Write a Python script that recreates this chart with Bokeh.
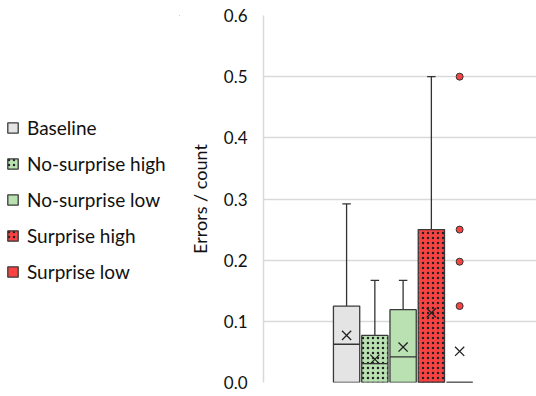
from bokeh.plotting import figure
from bokeh.layouts import row
from bokeh.models import (Range1d, Legend, LegendItem, FixedTicker, NumeralTickFormatter,
                          LinearAxis)
from bokeh.embed import file_html
from bokeh.resources import INLINE

groups = ["Baseline", "No-surprise high", "No-surprise low", "Surprise high", "Surprise low"]
q1 = [0.0, 0.0, 0.0, 0.0, 0.0]
q3 = [0.125, 0.077, 0.119, 0.25, 0.0]
medians = [0.0625, 0.031, 0.042, 0.0, 0.0]
means = [0.077, 0.038, 0.058, 0.114, 0.051]
upper = [0.292, 0.167, 0.167, 0.5, 0.0]
outlier_values = [0.5, 0.25, 0.1975, 0.125]
outlier_group = "Surprise low"
y_ticks = [0.0, 0.1, 0.2, 0.3, 0.4, 0.5, 0.6]

fills = ["#e4e4e4", "#b9e1b2", "#b9e1b2", "#f94343", "#f94343"]
hatches = ["", "dot", "", "dot", ""]

FONT = "Lato"
LEG_W = 180
xs = [i + 1 for i in range(len(groups))]

# main plot
p = figure(width=536 - LEG_W, height=396, output_backend="svg", toolbar_location=None,
           x_range=Range1d(-1.94, 7.72), y_range=Range1d(0, 0.6),
           min_border_left=263 - LEG_W, min_border_right=0, min_border_top=15, min_border_bottom=14)
p.outline_line_color = None
p.xaxis.visible = False
p.yaxis.visible = False
p.xgrid.visible = False
p.ygrid.grid_line_color = "#d9d9d9"
p.ygrid.grid_line_width = 1.5
p.ygrid.ticker = FixedTicker(ticks=y_ticks)

ax = LinearAxis(ticker=FixedTicker(ticks=y_ticks), formatter=NumeralTickFormatter(format="0.0"))
ax.axis_line_color = "#d9d9d9"
ax.axis_line_width = 1.5
ax.major_tick_line_color = None
ax.minor_tick_line_color = None
ax.major_label_text_font = FONT
ax.major_label_text_font_size = "17px"
ax.major_label_text_color = "#111111"
ax.major_label_standoff = 10
ax.axis_label = "Errors / count"
ax.axis_label_text_font = FONT
ax.axis_label_text_font_size = "18px"
ax.axis_label_text_font_style = "normal"
ax.axis_label_text_color = "#111111"
ax.axis_label_standoff = 10
p.add_layout(ax, "left")

# legend panel
q = figure(width=LEG_W, height=396, output_backend="svg", toolbar_location=None,
           x_range=Range1d(0, 1), y_range=Range1d(0, 1),
           min_border_left=0, min_border_right=0, min_border_top=0, min_border_bottom=0)
q.outline_line_color = None
q.xaxis.visible = False
q.yaxis.visible = False
q.xgrid.visible = False
q.ygrid.visible = False

# whiskers
wx = [x for x, qq, u in zip(xs, q3, upper) if u > qq]
wq = [qq for qq, u in zip(q3, upper) if u > qq]
wu = [u for qq, u in zip(q3, upper) if u > qq]
p.segment(x0=wx, y0=wq, x1=wx, y1=wu, line_color="#333333", line_width=1.3)
p.segment(x0=[x - 0.15 for x in wx], y0=wu, x1=[x + 0.15 for x in wx], y1=wu,
          line_color="#333333", line_width=1.3)

items = []
for i, g in enumerate(groups):
    kw = {}
    if hatches[i]:
        kw = dict(hatch_pattern=hatches[i], hatch_color="#222222", hatch_scale=5, hatch_weight=1)
    p.vbar(x=[xs[i]], bottom=[q1[i]], top=[q3[i]], width=0.93,
           fill_color=fills[i], line_color="#3a3a3a", line_width=1.3, **kw)
    # legend proxy lying outside the legend panel's visible range
    r = q.vbar(x=[5], bottom=[5], top=[6], width=0.5,
               fill_color=fills[i], line_color="#3a3a3a", line_width=1.3, **kw)
    items.append(LegendItem(label=g, renderers=[r]))

# medians
p.segment(x0=[x - 0.465 for x in xs], y0=medians, x1=[x + 0.465 for x in xs], y1=medians,
          line_color="#333333", line_width=1.3)
# means
p.scatter(x=xs, y=means, marker="x", size=13, line_color="#222222", line_width=1.3)
# outliers
ox = xs[groups.index(outlier_group)]
p.scatter(x=[ox] * len(outlier_values), y=outlier_values, marker="circle", size=7,
          fill_color="#f94343", line_color="#333333", line_width=1)

legend = Legend(items=items, location=(6, 99))
legend.label_text_font = FONT
legend.label_text_font_size = "19px"
legend.label_text_color = "#111111"
legend.glyph_width = 13
legend.glyph_height = 13
legend.label_height = 20
legend.spacing = 13
legend.label_standoff = 8
legend.padding = 0
legend.margin = 0
legend.border_line_color = None
legend.background_fill_alpha = 0
q.add_layout(legend, "center")

layout = row(q, p, spacing=0)
open("out.html", "w").write(file_html(layout, INLINE))
